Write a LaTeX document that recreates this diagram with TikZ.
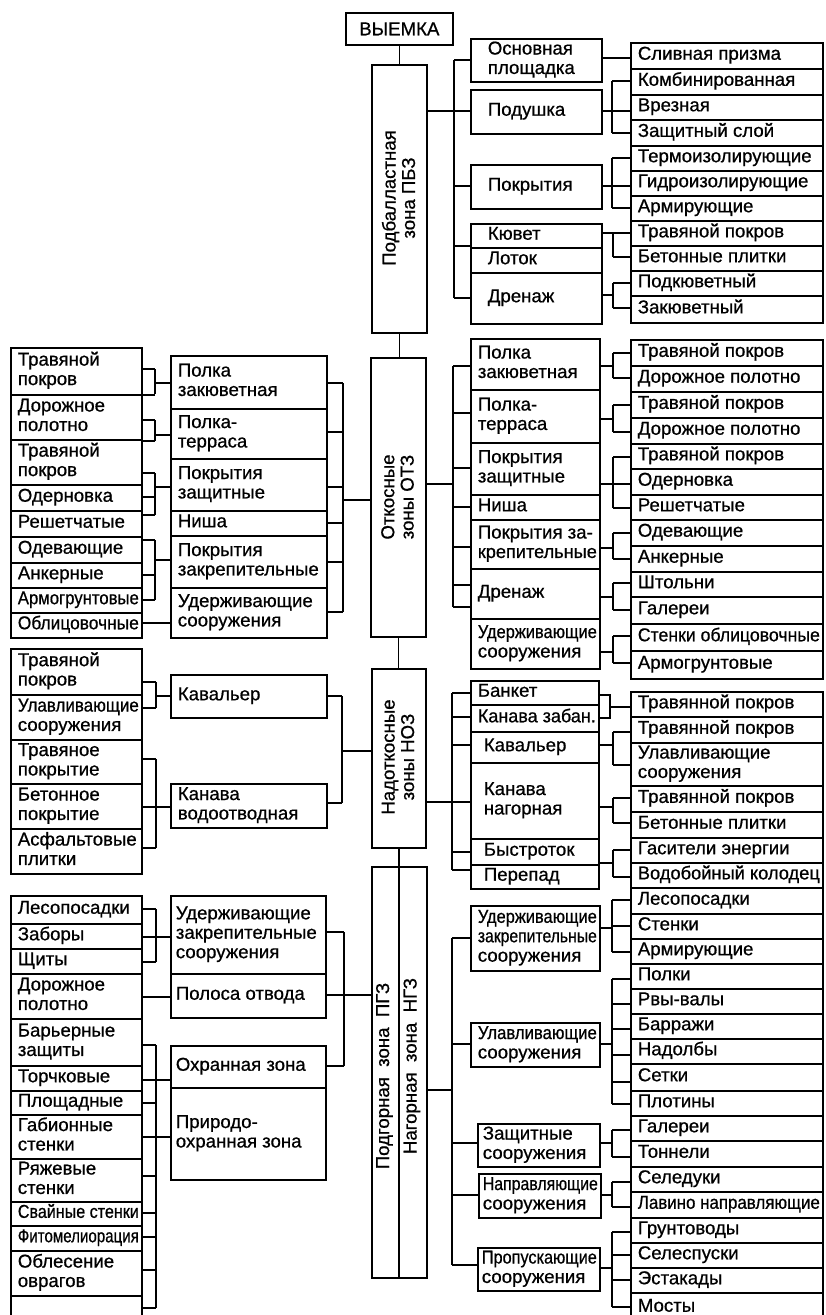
\documentclass[tikz,border=0pt]{standalone}
\usepackage{fontspec}
\usepackage{array,graphicx}
\setmainfont{Liberation Sans}[FakeBold=0.7]
\usetikzlibrary{calc}
\tikzset{
  bx/.style={draw, line width=1.7bp, rectangle, inner ysep=0pt,
    font=\fontsize{18.7}{19.5}\selectfont},
  zt/.style={rotate=90, align=center, inner sep=0pt, font=\fontsize{18.7}{19.5}\selectfont},
  ln/.style={line width=1.5bp}
}
\newsavebox\lbox
\newcommand\fitbox{\ifdim\wd\lbox>\bxf bp\relax
  \makebox[\bxt bp][l]{\resizebox{\bxf bp}{\height}{\usebox\lbox}}%
  \else\makebox[\bxt bp][l]{\usebox\lbox}\fi}
\newcolumntype{F}{>{\begin{lrbox}{\lbox}}l<{\end{lrbox}\fitbox}}
% box: [pad] name x1 y1 x2 y2 text
\newcommand\bx[7][7]{%
  \pgfmathsetmacro\bxw{#5-#3}%
  \pgfmathsetmacro\bxh{#6-#4}%
  \pgfmathsetmacro\bxt{#5-#3-2*#1}%
  \pgfmathsetmacro\bxf{#5-#3-#1-3}%
  \node[bx, minimum width=\bxw bp, minimum height=\bxh bp,
        inner xsep=#1bp, anchor=north west] (#2) at (#3,#4)
        {\begin{tabular}{@{}F@{}}#7\end{tabular}};}
% empty box: name x1 y1 x2 y2
\newcommand\zb[5]{%
  \pgfmathsetmacro\bxw{#4-#2}%
  \pgfmathsetmacro\bxh{#5-#3}%
  \node[bx, minimum width=\bxw bp, minimum height=\bxh bp, inner sep=0pt,
        anchor=north west] (#1) at (#2,#3) {};}
\newcommand\rb[4]{\bx{#1}{630}{#2}{822}{#3}{#4}}
\newcommand\lb[4]{\bx{#1}{10}{#2}{141}{#3}{#4}}
% bracket to the right: parent, y, bus x, top, bottom, children
\newcommand\brR[6]{%
  \draw[ln] (#1.east |- 0,#2) -- (#3,#2);
  \draw[ln] (#3,#4) -- (#3,#5);
  \foreach \cc/\yy in {#6}{\draw[ln] (#3,\yy) -- (\cc.west |- 0,\yy);}}
\newcommand\brL[6]{%
  \draw[ln] (#1.west |- 0,#2) -- (#3,#2);
  \draw[ln] (#3,#4) -- (#3,#5);
  \foreach \cc/\yy in {#6}{\draw[ln] (#3,\yy) -- (\cc.east |- 0,\yy);}}
\newcommand\lnk[3]{\draw[ln] (#1.east |- 0,#3) -- (#2.west |- 0,#3);}
\begin{document}
\begin{tikzpicture}[x=1bp,y=-1bp]
\useasboundingbox (0,0) rectangle (825,1315);
\clip (0,0) rectangle (825,1315);
\fill[white] (0,0) rectangle (825,1315);

% ---------- top ----------
\node[bx, minimum width=107bp, minimum height=32bp, anchor=north west] (vy) at (345,12) {ВЫЕМКА};
\zb{pbz}{371}{64}{426}{332}
\node[zt] (lpbz) at (398.5,198) {Подбалластная\\зона ПБЗ};

\bx[17]{p1}{470}{38}{601}{81}{Основная\\площадка}
\bx[17]{p2}{470}{89}{601}{133}{Подушка}
\bx[17]{p3}{470}{164}{601}{208}{Покрытия}
\bx[17]{p4}{470}{223}{601}{247}{Кювет}
\bx[17]{p5}{470}{247}{601}{272}{Лоток}
\bx[17]{p6}{470}{272}{601}{323}{Дренаж}

\rb{q1}{42}{68}{Сливная призма}
\rb{q2}{68}{94}{Комбинированная}
\rb{q3}{94}{119}{Врезная}
\rb{q4}{119}{145}{Защитный слой}
\rb{q5}{145}{170}{Термоизолирующие}
\rb{q6}{170}{195}{Гидроизолирующие}
\rb{q7}{195}{220}{Армирующие}
\rb{q8}{220}{245}{Травяной покров}
\rb{q9}{245}{270}{Бетонные плитки}
\rb{q10}{270}{295}{Подкюветный}
\rb{q11}{295}{322}{Закюветный}

\draw[ln] (vy.south) -- (vy.south |- pbz.north);
\brR{pbz}{111}{454}{60}{298}{p1/60,p2/111,p3/186,p4/246,p6/298}
\lnk{p1}{q1}{58}
\brR{p2}{111}{612}{81}{133}{q2/81,q3/111,q4/133}
\brR{p3}{186}{612}{158}{208}{q5/158,q6/186,q7/208}
\brR{p4}{233}{613}{233}{257}{q8/233,q9/257}
\brR{p6}{295}{613}{283}{308}{q10/283,q11/308}

% ---------- OTZ ----------
\zb{otz}{370}{357}{425}{636}
\node[zt] (lotz) at (397.5,497) {Откосные\\зоны ОТЗ};
\draw[ln] (pbz.south) -- (pbz.south |- otz.north);

\bx{r1}{470}{338}{599}{389}{Полка\\закюветная}
\bx{r2}{470}{389}{599}{442}{Полка-\\терраса}
\bx{r3}{470}{442}{599}{494}{Покрытия\\защитные}
\bx{r4}{470}{494}{599}{519}{Ниша}
\bx{r5}{470}{519}{599}{568}{Покрытия за-\\крепительные}
\bx{r6}{470}{568}{599}{618}{Дренаж}
\bx{r7}{470}{618}{599}{668}{Удерживающие\\сооружения}

\rb{s1}{339}{365}{Травяной покров}
\rb{s2}{365}{391}{Дорожное полотно}
\rb{s3}{391}{417}{Травяной покров}
\rb{s4}{417}{443}{Дорожное полотно}
\rb{s5}{443}{468}{Травяной покров}
\rb{s6}{468}{494}{Одерновка}
\rb{s7}{494}{519}{Решетчатые}
\rb{s8}{519}{545}{Одевающие}
\rb{s9}{545}{571}{Анкерные}
\rb{s10}{571}{596}{Штольни}
\rb{s11}{596}{623}{Галереи}
\rb{s12}{623}{650}{Стенки облицовочные}
\rb{s13}{650}{678}{Армогрунтовые}

\bx{l1}{170}{355}{326}{408}{Полка\\закюветная}
\bx{l2}{170}{408}{326}{458}{Полка-\\терраса}
\bx{l3}{170}{458}{326}{510}{Покрытия\\защитные}
\bx{l4}{170}{510}{326}{535}{Ниша}
\bx{l5}{170}{535}{326}{587}{Покрытия\\закрепительные}
\bx{l6}{170}{587}{326}{637}{Удерживающие\\сооружения}

\lb{t1}{347}{394}{Травяной\\покров}
\lb{t2}{394}{439}{Дорожное\\полотно}
\lb{t3}{439}{484}{Травяной\\покров}
\lb{t4}{484}{510}{Одерновка}
\lb{t5}{510}{536}{Решетчатые}
\lb{t6}{536}{562}{Одевающие}
\lb{t7}{562}{587}{Анкерные}
\lb{t8}{587}{612}{Армогрунтовые}
\lb{t9}{612}{637}{Облицовочные}

\brR{otz}{484}{453}{366}{607}{r1/366,r2/413,r3/468,r4/507,r5/547,r6/585,r6/607}
\brL{otz}{500}{343}{383}{612}{l1/383,l2/432,l3/487,l4/523,l5/562,l6/612}
\brR{r1}{366}{613}{353}{378}{s1/353,s2/378}
\brR{r2}{419}{613}{405}{432}{s3/405,s4/432}
\brR{r3}{484}{613}{457}{508}{s5/457,s6/484,s7/508}
\brR{r5}{548}{613}{533}{559}{s8/533,s9/559}
\brR{r6}{597}{613}{583}{610}{s10/583,s11/610}
\brR{r7}{652}{613}{636}{663}{s12/636,s13/663}
\brL{l1}{383}{155}{369}{394}{t1/369,t2/395}
\brL{l2}{435}{155}{420}{441}{t2/420,t3/441}
\brL{l3}{487}{155}{473}{515}{t3/473,t4/497,t5/515}
\brL{l5}{560}{155}{540}{600}{t6/540,t7/575,t8/600}
\lnk{t9}{l6}{623}

% ---------- NOZ ----------
\zb{noz}{371}{668}{425}{847}
\node[zt] (lnoz) at (398,757) {Надоткосные\\зоны НОЗ};
\draw[ln] (otz.south) -- (otz.south |- noz.north);

\bx{u1}{170}{674}{326}{717}{Кавальер}
\bx{u2}{170}{783}{326}{827}{Канава\\водоотводная}
\lb{v1}{648}{694}{Травяной\\покров}
\lb{v2}{694}{739}{Улавливающие\\сооружения}
\lb{v3}{739}{783}{Травяное\\покрытие}
\lb{v4}{783}{828}{Бетонное\\покрытие}
\lb{v5}{828}{873}{Асфальтовые\\плитки}

\bx{w1}{470}{680}{598}{704}{Банкет}
\bx{w2}{470}{704}{598}{731}{Канава забан.}
\bx[13]{w3}{470}{731}{598}{762}{Кавальер}
\bx[13]{w4}{470}{762}{598}{838}{Канава\\нагорная}
\bx[13]{w5}{470}{838}{598}{864}{Быстроток}
\bx[13]{w6}{470}{864}{598}{888}{Перепад}

\rb{x1}{691}{716}{Травянной покров}
\rb{x2}{716}{742}{Травянной покров}
\rb{x3}{742}{785}{Улавливающие\\сооружения}
\rb{x4}{785}{811}{Травянной покров}
\rb{x5}{811}{837}{Бетонные плитки}
\rb{x6}{837}{862}{Гасители энергии}
\rb{x7}{862}{887}{Водобойный колодец}

\brL{noz}{751}{342}{696}{803}{u1/696,u2/803}
\brL{u1}{696}{156}{682}{708}{v1/682,v2/708}
\brL{u2}{807}{156}{759}{848}{v3/759,v4/807,v5/848}
\brR{noz}{802}{452}{693}{870}{w1/693,w2/717,w3/745,w4/802,w5/852,w6/870}
\coordinate (kb) at (610,707);
\draw[ln] (w1.east |- 0,695) -- (kb |- 0,695) -- (kb |- 0,718) -- (w2.east |- 0,718);
\draw[ln] (kb) -- (x1.west |- kb);
\brR{w3}{745}{613}{732}{765}{x2/732,x3/765}
\brR{w4}{807}{613}{798}{823}{x4/798,x5/823}
\brR{w5}{863}{613}{850}{877}{x6/850,x7/877}

% ---------- PGZ / NGZ ----------
\zb{pgz}{371}{866}{398}{1277}
\zb{ngz}{398}{866}{426}{1277}
\node[zt] (lpgz) at (384.5,1076) {Подгорная\ \ зона\ \ ПГЗ};
\node[zt] (lngz) at (412,1066) {Нагорная\ \ зона\ \ НГЗ};
\draw[ln] (noz.south) -- (noz.south |- pgz.north);

\bx[5]{y1}{170}{895}{325}{973}{Удерживающие\\закрепительные\\сооружения}
\bx[5]{y2}{170}{973}{325}{1017}{Полоса отвода}
\bx[5]{y3}{170}{1045}{325}{1087}{Охранная зона}
\bx[5]{y4}{170}{1087}{325}{1179}{Природо-\\охранная зона}

\lb{z1}{895}{923}{Лесопосадки}
\lb{z2}{923}{948}{Заборы}
\lb{z3}{948}{973}{Щиты}
\lb{z4}{973}{1018}{Дорожное\\полотно}
\lb{z5}{1018}{1065}{Барьерные\\защиты}
\lb{z6}{1065}{1090}{Торчковые}
\lb{z7}{1090}{1114}{Площадные}
\lb{z8}{1114}{1158}{Габионные\\стенки}
\lb{z9}{1158}{1201}{Ряжевые\\стенки}
\lb{z10}{1201}{1225}{Свайные стенки}
\lb{z11}{1225}{1250}{Фитомелиорация}
\lb{z12}{1250}{1295}{Облесение\\оврагов}
\zb{z13}{10}{1295}{141}{1322}

\bx{n1}{470}{905}{599}{970}{Удерживающие\\закрепительные\\сооружения}
\bx{n2}{470}{1022}{599}{1066}{Улавливающие\\сооружения}
\bx[5]{n3}{477}{1123}{599}{1166}{Защитные\\сооружения}
\bx[4]{n4}{478}{1173}{600}{1217}{Направляющие\\сооружения}
\bx[4]{n5}{477}{1247}{599}{1290}{Пропускающие\\сооружения}

\rb{m1}{887}{913}{Лесопосадки}
\rb{m2}{913}{938}{Стенки}
\rb{m3}{938}{963}{Армирующие}
\rb{m4}{963}{988}{Полки}
\rb{m5}{988}{1013}{Рвы-валы}
\rb{m6}{1013}{1038}{Барражи}
\rb{m7}{1038}{1063}{Надолбы}
\rb{m8}{1063}{1090}{Сетки}
\rb{m9}{1090}{1115}{Плотины}
\rb{m10}{1115}{1140}{Галереи}
\rb{m11}{1140}{1166}{Тоннели}
\rb{m12}{1166}{1191}{Селедуки}
\rb{m13}{1191}{1217}{Лавино направляющие}
\rb{m14}{1217}{1242}{Грунтоводы}
\rb{m15}{1242}{1267}{Селеспуски}
\rb{m16}{1267}{1292}{Эстакады}
\rb{m17}{1292}{1322}{Мосты}

\brL{pgz}{995}{344}{932}{1066}{y1/932,y2/995,y3/1066}
\brL{y1}{937}{156}{909}{962}{z1/909,z2/937,z3/962}
\lnk{z4}{y2}{997}
\brL{y3}{1080}{156}{1045}{1308}{z5/1045,z6/1080,z7/1103,z8/1137,z9/1176,z10/1213,z11/1237,z12/1270,z13/1308}
\draw[ln] (y4.west |- 0,1137) -- (156,1137);
\brR{ngz}{1090}{452}{938}{1265}{n1/938,n2/1044,n3/1143,n4/1195,n5/1265}
\brR{n1}{928}{612}{900}{952}{m1/900,m2/926,m3/952}
\brR{n2}{1044}{612}{979}{1104}{m4/979,m5/1004,m6/1029,m7/1055,m8/1082,m9/1104}
\brR{n3}{1143}{612}{1130}{1157}{m10/1130,m11/1157}
\brR{n4}{1195}{612}{1182}{1207}{m12/1182,m13/1207}
\brR{n5}{1268}{612}{1232}{1307}{m14/1232,m15/1255,m16/1280,m17/1307}
\end{tikzpicture}
\end{document}
